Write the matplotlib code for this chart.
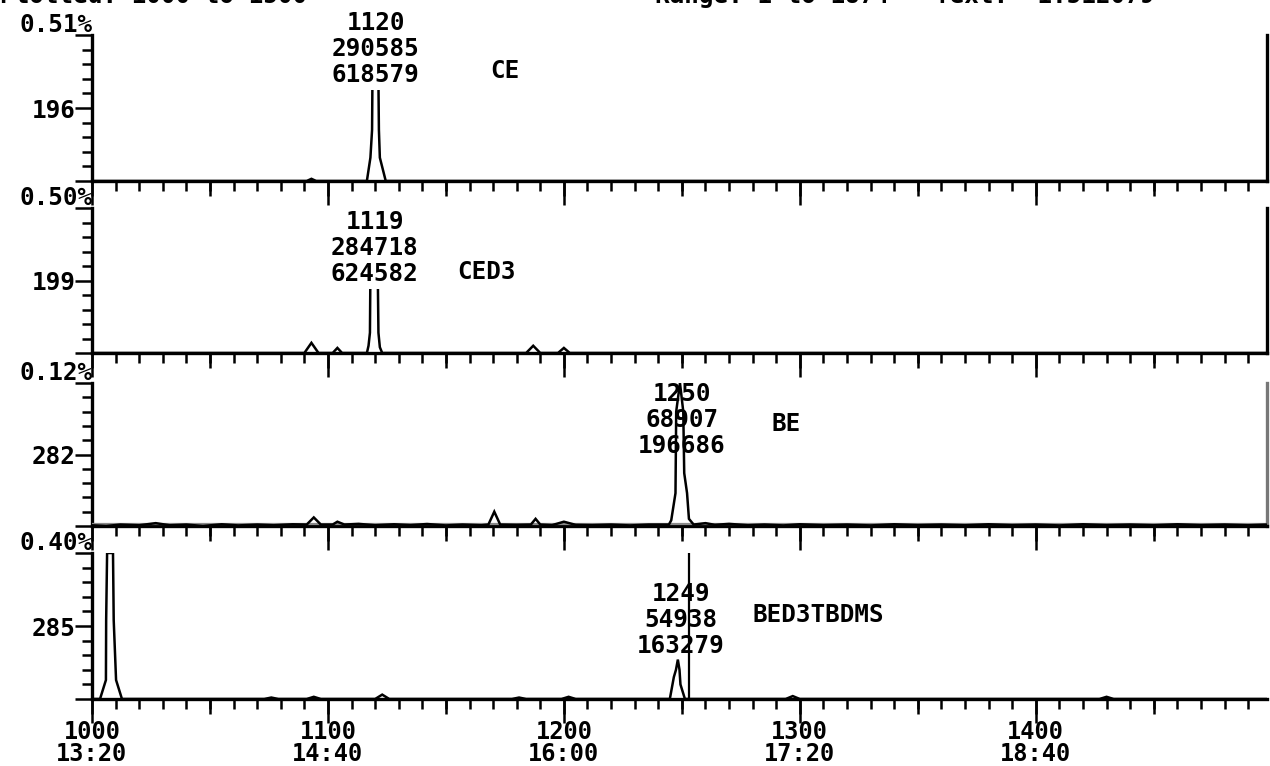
import matplotlib
matplotlib.use("Agg")
import matplotlib.pyplot as plt
from matplotlib.ticker import MultipleLocator, NullFormatter, FuncFormatter

# ion traces, scan number vs. fraction of full scale
ce_scan = [1000, 1091, 1093, 1095, 1116.5, 1118, 1118.7, 1119, 1121.2, 1121.6, 1122, 1124.5, 1498]
ce_int = [0, 0, 0.015, 0, 0, 0.16, 0.35, 1.0, 1.0, 0.35, 0.16, 0, 0]

ced3_scan = [1000, 1090, 1093, 1096, 1102, 1104, 1106, 1116.5, 1117.2, 1117.8, 1118.2,
             1120.8, 1121.4, 1122, 1123, 1184, 1187, 1190, 1197.5, 1200, 1202.5, 1498]
ced3_int = [0, 0, 0.07, 0, 0, 0.035, 0, 0, 0.05, 0.14, 1.0,
            1.0, 0.14, 0.04, 0, 0, 0.05, 0, 0, 0.035, 0, 0]

be_scan = [1000, 1006, 1012, 1020, 1027, 1033, 1040, 1047, 1055, 1062, 1070, 1077, 1085,
           1091, 1094, 1097, 1102, 1104, 1107, 1113, 1120, 1128, 1135, 1142, 1150, 1157,
           1165, 1168, 1170.5, 1173, 1180, 1186, 1188, 1190, 1195, 1200, 1205, 1212, 1220,
           1228, 1236, 1244.5, 1245.5, 1247.3, 1247.6, 1249.2, 1250.6, 1251, 1252.2, 1253,
           1255, 1260, 1264, 1270, 1278, 1285, 1293, 1300, 1310, 1320, 1330, 1340, 1350,
           1360, 1370, 1380, 1390, 1400, 1410, 1420, 1430, 1440, 1450, 1460, 1470, 1480,
           1490, 1498]
be_int = [0.005, 0.0, 0.01, 0.005, 0.02, 0.005, 0.01, 0.0, 0.012, 0.004, 0.01, 0.005, 0.012,
          0.01, 0.06, 0.01, 0.01, 0.03, 0.01, 0.015, 0.005, 0.012, 0.006, 0.014, 0.004, 0.01,
          0.005, 0.01, 0.1, 0.01, 0.008, 0.01, 0.05, 0.01, 0.006, 0.03, 0.008, 0.006, 0.01,
          0.004, 0.01, 0.01, 0.04, 0.23, 0.8, 1.0, 0.8, 0.37, 0.23, 0.05,
          0.01, 0.02, 0.008, 0.015, 0.005, 0.01, 0.004, 0.012, 0.006, 0.01, 0.004, 0.012, 0.006,
          0.01, 0.005, 0.012, 0.006, 0.01, 0.004, 0.012, 0.006, 0.01, 0.005, 0.012, 0.006, 0.01,
          0.005, 0.01]
be_offset = 0.012

bed_scan = [1000, 1003.4, 1005.9, 1006.0, 1006.4, 1008.9, 1009.2, 1010.2, 1012.7, 1073, 1076,
            1079, 1091, 1094, 1097, 1120, 1123, 1126, 1178, 1181, 1184, 1199, 1202, 1205,
            1244.9, 1246.6, 1247.5, 1248.3, 1249, 1249.4, 1251.3, 1294, 1297, 1300, 1427,
            1430, 1433, 1498]
bed_int = [0, 0, 0.13, 0.54, 1.0, 1.0, 0.54, 0.13, 0, 0, 0.01,
           0, 0, 0.015, 0, 0, 0.03, 0, 0, 0.01, 0, 0, 0.015, 0,
           0, 0.15, 0.2, 0.27, 0.2, 0.1, 0, 0, 0.02, 0, 0,
           0.015, 0, 0]
bed_marker = 1253

masses = ["196", "199", "282", "285"]
full_scale = ["0.51%", "0.50%", "0.12%", "0.40%"]
names = ["CE", "CED3", "BE", "BED3TBDMS"]
apex_scan = [1120.3, 1119.8, 1250, 1249.5]
peak_text = [["1120", "290585", "618579"],
             ["1119", "284718", "624582"],
             ["1250", "68907", "196686"],
             ["1249", "54938", "163279"]]
name_scan = [1168.6, 1154.7, 1288, 1280]

traces = [(ce_scan, ce_int), (ced3_scan, ced3_int), (be_scan, be_int), (bed_scan, bed_int)]

FONT = dict(family="DejaVu Sans Mono", weight="bold", size=17.5)
W, H = 1270, 766
left_px, right_px = 92, 1267
panel_px = [(35, 181), (208, 353), (383, 526), (553, 699)]
text_base_px = [30, 229, 401, 601]      # baseline of first peak label line
name_base_px = [78, 279, 431, 622]
white_box = [True, True, False, False]

fig = plt.figure(figsize=(12.7, 7.66), dpi=100)

fig.text(0.0, 1 - 3 / H, "Plotted: 1000 to 1500", ha="left", va="baseline", **FONT)
fig.text(655 / W, 1 - 3 / H, "Range: 1 to 1874", ha="left", va="baseline", **FONT)
fig.text(935 / W, 1 - 3 / H, "Text:  1.512079", ha="left", va="baseline", **FONT)

for i, (top, bot) in enumerate(panel_px):
    ax = fig.add_axes([left_px / W, 1 - bot / H, (right_px - left_px) / W, (bot - top) / H])
    xs, ys = traces[i]
    ax.plot(xs, ys, color="black", lw=1.8, zorder=4, solid_joinstyle="miter")
    if i == 2:
        ax.plot([xs[0], xs[-1]], [be_offset, be_offset], color="#8a8a8a", lw=1.6, zorder=3)
    if i == 3:
        ax.axvline(bed_marker, color="black", lw=1.6, zorder=4)

    ax.set_xlim(1000, 1498)
    ax.set_ylim(0, 1)
    ax.spines["top"].set_visible(False)
    ax.spines["right"].set_visible(i < 3)
    if i == 2:
        ax.spines["right"].set_color("#777777")
    for s in ["left", "bottom", "right"]:
        ax.spines[s].set_linewidth(2.4)

    # y: ticks every 10 % of full scale, mass label at mid-scale
    ax.yaxis.set_major_locator(MultipleLocator(0.5))
    ax.yaxis.set_minor_locator(MultipleLocator(0.1))
    ax.yaxis.set_major_formatter(FuncFormatter(lambda v, p, m=masses[i]: m if abs(v - 0.5) < 1e-6 else ""))
    ax.tick_params(axis="y", which="major", length=12, width=1.8, pad=0)
    ax.tick_params(axis="y", which="minor", length=7, width=1.8)
    for lbl in ax.get_yticklabels():
        lbl.set_fontproperties(dict(family="DejaVu Sans Mono", weight="bold", size=17.5))

    # x: scan ticks every 10, longer at 50 and 100
    ax.xaxis.set_major_locator(MultipleLocator(100))
    ax.xaxis.set_minor_locator(MultipleLocator(10))
    ax.tick_params(axis="x", which="major", length=17, width=1.8, pad=-2)
    ax.tick_params(axis="x", which="minor", length=7, width=1.8)
    sec = ax.secondary_xaxis("bottom")
    sec.xaxis.set_major_locator(MultipleLocator(50))
    sec.xaxis.set_major_formatter(NullFormatter())
    sec.tick_params(axis="x", length=11, width=1.8)
    sec.spines["bottom"].set_visible(False)

    if i == 3:
        ax.xaxis.set_major_formatter(FuncFormatter(
            lambda v, p: "%d\n%d:%02d" % (v, *divmod(int(round(v * 0.8)), 60))))
        for lbl in ax.get_xticklabels():
            lbl.set_fontproperties(dict(family="DejaVu Sans Mono", weight="bold", size=17))
            lbl.set_linespacing(0.88)
    else:
        ax.xaxis.set_major_formatter(NullFormatter())

    # full-scale percentage above the top of the axis
    ax.annotate(full_scale[i], xy=(0, 1), xycoords="axes fraction", xytext=(1, 3),
                textcoords="offset pixels", ha="right", va="baseline", **FONT)

    trans = ax.get_xaxis_transform()
    y0 = (bot - text_base_px[i]) / (bot - top)
    for j, line in enumerate(peak_text[i]):
        kw = dict(FONT)
        if white_box[i]:
            kw["bbox"] = dict(facecolor="white", edgecolor="none", pad=2)
        ax.annotate(line, xy=(apex_scan[i], y0), xycoords=trans, xytext=(0, -26 * j),
                    textcoords="offset pixels", ha="center", va="baseline",
                    zorder=5 if white_box[i] else 3, annotation_clip=False, **kw)
    yn = (bot - name_base_px[i]) / (bot - top)
    ax.text(name_scan[i], yn, names[i], transform=trans, ha="left", va="baseline", **FONT)

fig.savefig("out.png", dpi=100, facecolor="white")
